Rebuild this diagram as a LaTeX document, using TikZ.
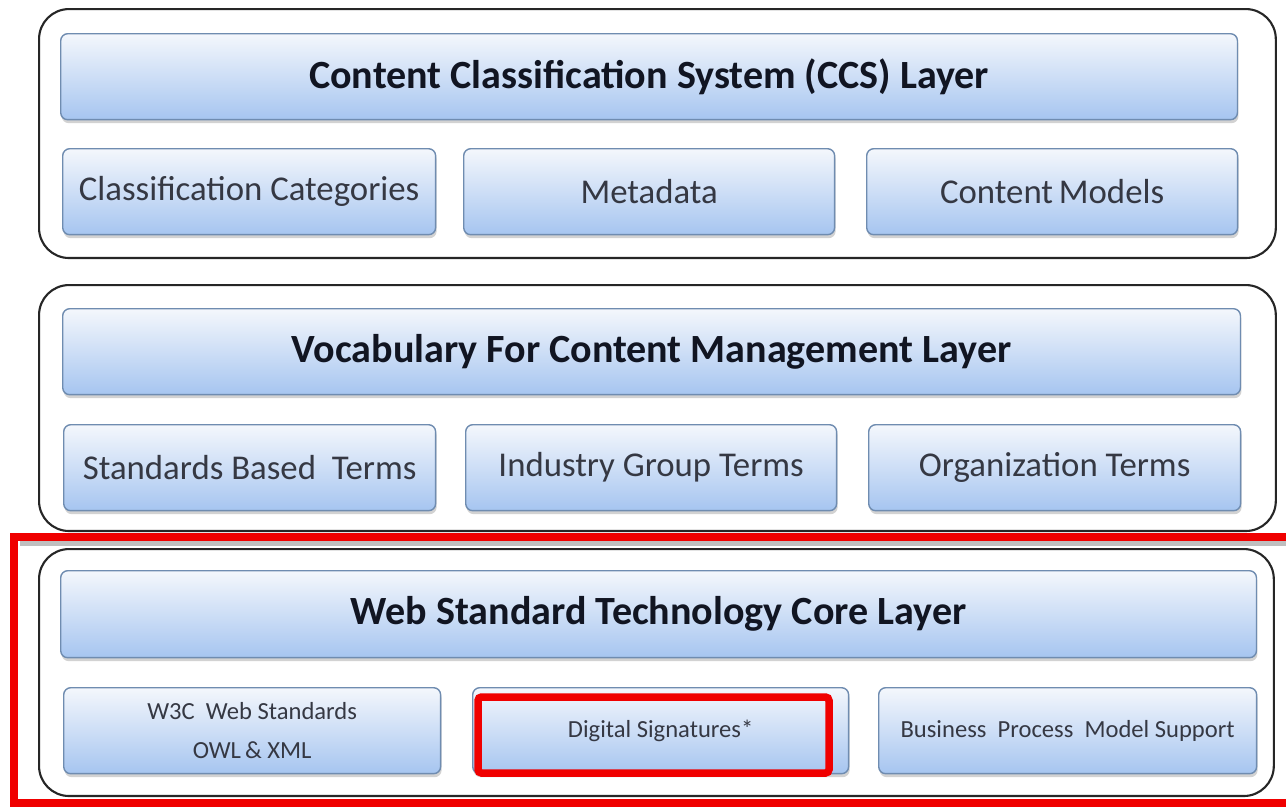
\documentclass[tikz,border=0pt]{standalone}
\usepackage{fontspec}
\setmainfont{Carlito}
\usetikzlibrary{shadows}
\definecolor{lyTop}{HTML}{F4F7FC}
\definecolor{lyBot}{HTML}{A6C5F0}
\definecolor{lyEdge}{HTML}{6F8CB0}
\definecolor{lyText}{HTML}{111522}
\definecolor{lyRed}{HTML}{F00000}

\begin{document}
\begin{tikzpicture}[x=0.02cm, y=-0.02cm,
      layer/.style={draw=black!85, line width=1.2pt, rounded corners=0.6cm,
                    fill=white, anchor=north west, inner sep=0pt},
      head/.style={draw=lyEdge, line width=0.8pt, rounded corners=4pt,
                   top color=lyTop, bottom color=lyBot, anchor=north west,
                   minimum height=1.72cm, font=\fontsize{22.8}{26}\selectfont\bfseries,
                   text=lyText,
                   drop shadow={shadow xshift=0.02cm, shadow yshift=-0.07cm, opacity=0.35}},
      part/.style={head, minimum width=7.46cm, font=\fontsize{19.8}{24}\selectfont,
                   text=lyText!85},
      small/.style={part, font=\fontsize{14}{22}\selectfont, align=center},
      redmark/.style={draw=lyRed, line width=0.15cm}]
    \useasboundingbox (0,0) rectangle (1286,806);

    % outer layer frames
    \node[layer, minimum width=24.74cm, minimum height=4.98cm] (l1) at (38,8) {};
    \node[layer, minimum width=24.74cm, minimum height=4.92cm] (l2) at (38,284) {};
    \node[layer, minimum width=24.7cm, minimum height=4.94cm] (l3) at (38,548) {};

    % top layer
    \node[head, minimum width=23.54cm] (ccs) at (60,33)
      {Content Classification System (CCS) Layer};
    \node[part] (cat) at (62,148) {Classification Categories};
    \node[part, minimum width=7.42cm] (meta) at (463,148) {Metadata};
    \node[part, minimum width=7.42cm] (mod) at (866,148) {Content\,Models};

    % middle layer
    \node[head, minimum width=23.56cm] (voc) at (62,308)
      {Vocabulary For Content Management Layer};
    \node[part, minimum width=7.44cm] (std) at (63,424) {Standards Based\ \ Terms};
    \node[part, minimum width=7.42cm] (ind) at (465,424) {Industry Group Terms};
    \node[part, minimum width=7.44cm] (org) at (868,424) {Organization Terms};

    % core layer
    \node[head, minimum width=23.92cm, minimum height=1.74cm] (core) at (60,570)
      {Web Standard Technology Core Layer};
    \node[small, minimum width=7.54cm] (w3c) at (63,687)
      {W3C\ \ Web Standards\\OWL\,\& XML};
    \node[small, minimum width=7.52cm] (dsig) at (472,687) {Digital Signatures*};
    \node[small, minimum width=7.56cm] (bpm) at (878,687)
      {Business\ \ Process\ \ Model Support};

    % highlight marks
    \draw[black!25, line width=0.1cm] (20,543) -- (1286,543);
    \draw[redmark] (14,537) rectangle (1300,803);
    \draw[redmark, rounded corners=2pt] (478,697) rectangle (829,773);
  \end{tikzpicture}
\end{document}
